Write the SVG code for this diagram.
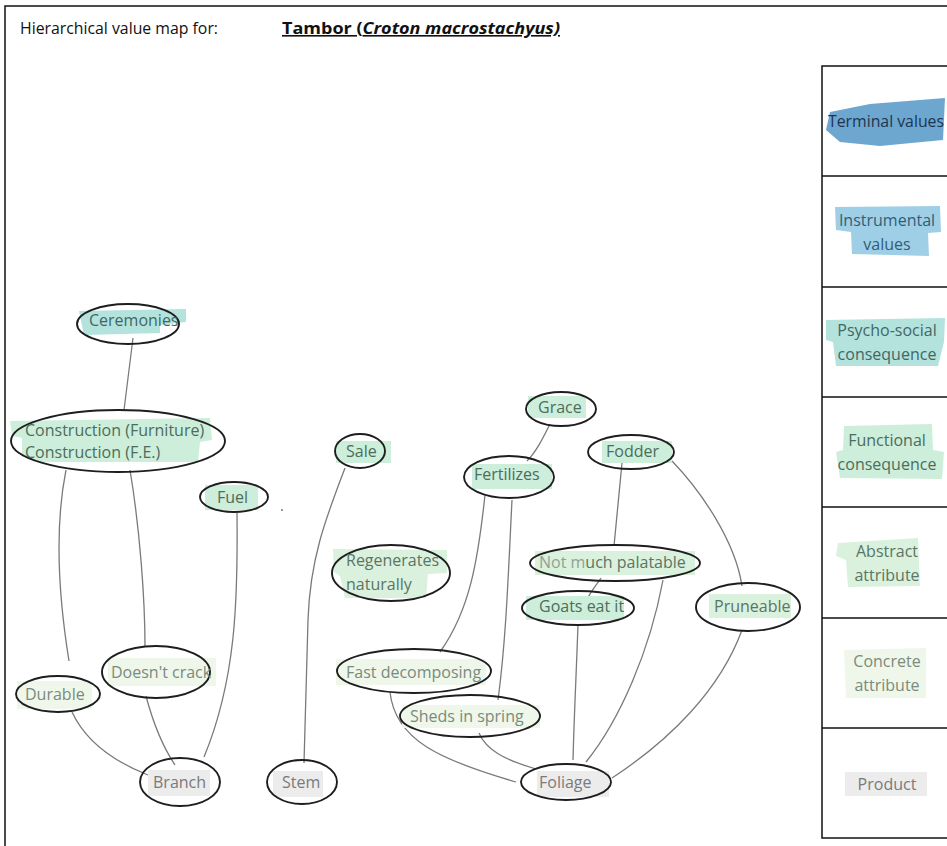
<svg xmlns="http://www.w3.org/2000/svg" width="947" height="846" viewBox="0 0 947 846">
<style>
text{font-family:"Open Sans","Liberation Sans",sans-serif;font-size:16px}
.lt{font-size:16px}
.ol{fill:none;stroke:#1e1e1e;stroke-width:1.9}
.cn path{fill:none;stroke:#7a7a7a;stroke-width:1.3}
.lg{fill:none;stroke:#111;stroke-width:1.5}
.hT{fill:#6da6cf}.tT{fill:#1d3550}
.hI{fill:#9fcfe6}.tI{fill:#2f5e78}
.hP{fill:#b4e2dd}.tP{fill:#3f6865}
.hF{fill:#cdeedb}.tF{fill:#4b6d5a}
.hA{fill:#d9f1dd}.tA{fill:#5b7565}
.hC{fill:#eef7e9}.tC{fill:#7b8a7e}
.hR{fill:#ececec}.tR{fill:#7a7a7a}
</style>
<rect x="0" y="0" width="947" height="846" fill="#fff"/>
<path d="M5 846 V6 H947" fill="none" stroke="#111" stroke-width="1.5"/>
<g id="title">
<text x="20" y="34" font-size="18" fill="#111" textLength="198" lengthAdjust="spacingAndGlyphs">Hierarchical value map for:</text>
<text x="282" y="34" font-size="18" font-weight="bold" fill="#111" text-decoration="underline" textLength="278" lengthAdjust="spacingAndGlyphs">Tambor (<tspan font-style="italic">Croton macrostachyus)</tspan></text>
</g>
<g id="legend">
<rect class="lg" x="822" y="66" width="130" height="772"/>
<path class="lg" d="M822 176H947M822 287H947M822 397H947M822 507H947M822 618H947M822 728H947"/>
<path class="hT" d="M830 112 L870 104 L945 98 L943 140 L880 146 L840 142 L826 130 Z"/>
<text class="tT lt" x="828" y="127" textLength="116" lengthAdjust="spacingAndGlyphs">Terminal values</text>
<path class="hI" d="M835 207 L940 206 L941 232 L928 233 L929 256 L852 254 L851 232 L836 230 Z"/>
<text class="tI lt" x="887" y="226" text-anchor="middle">Instrumental</text>
<text class="tI lt" x="887" y="250" text-anchor="middle">values</text>
<path class="hP" d="M826 320 L945 318 L944 342 L938 366 L836 366 L833 342 L826 340 Z"/>
<text class="tP lt" x="887" y="336" text-anchor="middle">Psycho-social</text>
<text class="tP lt" x="887" y="360" text-anchor="middle">consequence</text>
<path class="hF" d="M844 426 L932 424 L933 450 L944 452 L942 479 L840 478 L836 452 L843 450 Z"/>
<text class="tF lt" x="887" y="446" text-anchor="middle">Functional</text>
<text class="tF lt" x="887" y="470" text-anchor="middle">consequence</text>
<path class="hA" d="M838 543 L918 538 L920 586 L848 587 L846 560 L836 556 Z"/>
<text class="tA lt" x="887" y="557" text-anchor="middle">Abstract</text>
<text class="tA lt" x="887" y="581" text-anchor="middle">attribute</text>
<path class="hC" d="M844 650 L926 648 L926 698 L846 698 Z"/>
<text class="tC lt" x="887" y="667" text-anchor="middle">Concrete</text>
<text class="tC lt" x="887" y="691" text-anchor="middle">attribute</text>
<rect class="hR" x="845" y="772" width="82" height="24"/>
<text class="tR lt" x="887" y="790" text-anchor="middle">Product</text>
</g>
<g id="connectors" class="cn">
<path d="M133 338 L124 410"/>
<path d="M66 470 C56 520 56 580 69 661"/>
<path d="M130 470 C140 530 145 600 145 647"/>
<path d="M237 513 C238 600 236 680 204 757"/>
<path d="M72 712 C85 740 110 760 148 775"/>
<path d="M146 696 C155 730 165 750 175 765"/>
<path d="M345 468 C325 520 310 560 308 620 L304 763"/>
<path d="M550 424 C542 440 536 452 527 461"/>
<path d="M485 495 C478 560 470 610 440 652"/>
<path d="M512 500 C508 580 506 640 498 700"/>
<path d="M622 463 L614 546"/>
<path d="M601 578 C596 586 590 592 587 600"/>
<path d="M578 625 C576 680 574 720 573 760"/>
<path d="M663 580 C650 650 620 720 586 762"/>
<path d="M672 461 C700 490 735 540 742 586"/>
<path d="M742 630 C720 690 670 740 612 778"/>
<path d="M390 692 C395 740 440 760 516 782"/>
<path d="M479 733 C486 750 505 760 536 769"/>
</g>
<circle cx="282" cy="510" r="0.9" fill="#666"/>
<g id="n-ceremonies">
<path class="hP" d="M79 311 L186 309 L186 322 L160 325 L160 333 L84 335 Z"/>
<ellipse class="ol" cx="128" cy="324" rx="51" ry="20"/>
<text class="tP" x="89" y="326">Ceremonies</text>
</g>
<g id="n-construction">
<path class="hF" d="M10 421 L210 418 L212 440 L200 442 L198 462 L40 462 L22 456 L22 438 L12 436 Z"/>
<ellipse class="ol" cx="118" cy="441" rx="107" ry="31"/>
<text class="tF" x="25" y="436">Construction (Furniture)</text>
<text class="tF" x="25" y="458">Construction (F.E.)</text>
</g>
<g id="n-fuel">
<rect class="hF" x="205" y="485" width="53" height="25"/>
<ellipse class="ol" cx="234" cy="497" rx="34" ry="15"/>
<text class="tF" x="217" y="503">Fuel</text>
</g>
<g id="n-sale">
<rect class="hF" x="336" y="441" width="55" height="22"/>
<ellipse class="ol" cx="360" cy="451" rx="25" ry="17"/>
<text class="tF" x="346" y="457">Sale</text>
</g>
<g id="n-grace">
<rect class="hF" x="528" y="396" width="58" height="22"/>
<ellipse class="ol" cx="561" cy="409" rx="35" ry="17"/>
<text class="tF" x="538" y="413">Grace</text>
</g>
<g id="n-fertilizes">
<rect class="hF" x="472" y="464" width="80" height="25"/>
<ellipse class="ol" cx="509" cy="477" rx="45" ry="21"/>
<text class="tF" x="474" y="480">Fertilizes</text>
</g>
<g id="n-fodder">
<rect class="hF" x="602" y="441" width="70" height="22"/>
<ellipse class="ol" cx="631" cy="452" rx="43" ry="17"/>
<text class="tF" x="606" y="457">Fodder</text>
</g>
<g id="n-regenerates">
<path class="hA" d="M333 549 L447 550 L447 573 L428 574 L426 598 L345 598 L340 576 L334 572 Z"/>
<ellipse class="ol" cx="391" cy="573" rx="59" ry="28"/>
<text class="tA" x="346" y="566">Regenerates</text>
<text class="tA" x="346" y="590">naturally</text>
</g>
<g id="n-palatable">
<rect class="hA" x="535" y="551" width="160" height="24"/>
<ellipse class="ol" cx="615" cy="563" rx="85" ry="18"/>
<text class="tA" x="539" y="568"><tspan fill="#8fa292">Not m</tspan>uch palatable</text>
</g>
<g id="n-goats">
<rect class="hF" x="526" y="596" width="98" height="24"/>
<ellipse class="ol" cx="578" cy="608" rx="56" ry="17"/>
<text class="tF" x="539" y="612">Goats eat it</text>
</g>
<g id="n-pruneable">
<rect class="hA" x="709" y="594" width="82" height="24"/>
<ellipse class="ol" cx="748" cy="607" rx="52" ry="24"/>
<text class="tA" x="714" y="612">Pruneable</text>
</g>
<g id="n-durable">
<rect class="hC" x="17" y="681" width="75" height="28"/>
<ellipse class="ol" cx="58" cy="694" rx="42" ry="18"/>
<text class="tC" x="25" y="700">Durable</text>
</g>
<g id="n-doesnt">
<rect class="hC" x="108" y="658" width="108" height="28"/>
<ellipse class="ol" cx="156" cy="672" rx="54" ry="26"/>
<text class="tC" x="111" y="678">Doesn't crack</text>
</g>
<g id="n-fast">
<rect class="hC" x="336" y="659" width="150" height="26"/>
<ellipse class="ol" cx="414" cy="671" rx="77" ry="22"/>
<text class="tC" x="346" y="678">Fast decomposing</text>
</g>
<g id="n-sheds">
<rect class="hC" x="402" y="705" width="138" height="23"/>
<ellipse class="ol" cx="470" cy="716" rx="70" ry="21"/>
<text class="tC" x="410" y="722">Sheds in spring</text>
</g>
<g id="n-branch">
<rect class="hR" x="148" y="770" width="62" height="26"/>
<ellipse class="ol" cx="180" cy="782" rx="40" ry="24"/>
<text class="tR" x="153" y="788">Branch</text>
</g>
<g id="n-stem">
<rect class="hR" x="273" y="771" width="50" height="26"/>
<ellipse class="ol" cx="302" cy="782" rx="35" ry="22"/>
<text class="tR" x="282" y="788">Stem</text>
</g>
<g id="n-foliage">
<rect class="hR" x="537" y="771" width="72" height="26"/>
<ellipse class="ol" cx="566" cy="782" rx="45" ry="18"/>
<text class="tR" x="539" y="788">Foliage</text>
</g>
</svg>
